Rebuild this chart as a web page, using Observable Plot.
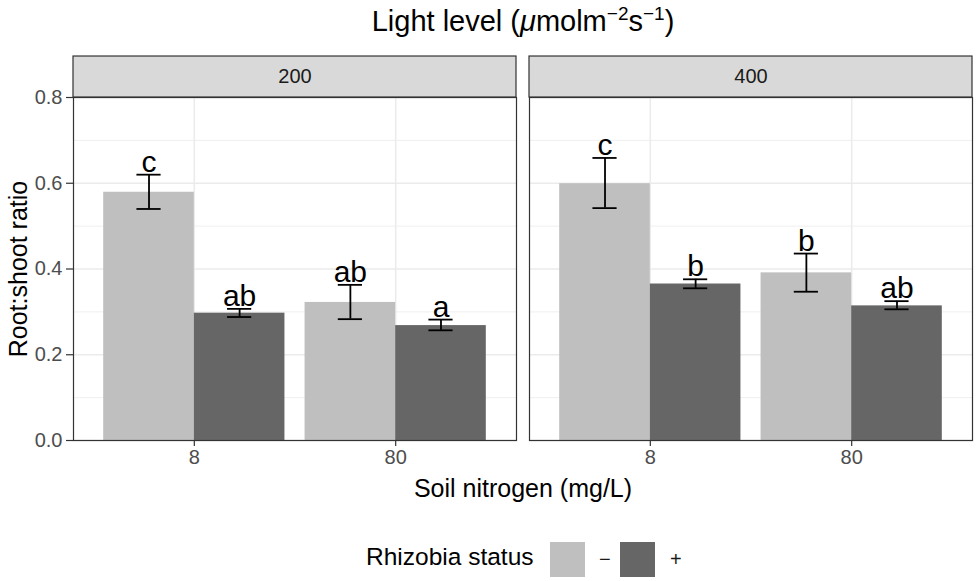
<!DOCTYPE html>
<html><head><meta charset="utf-8">
<script src="https://cdn.jsdelivr.net/npm/d3@7"></script>
<script src="https://cdn.jsdelivr.net/npm/@observablehq/plot@0.6"></script>
<style>
html,body{margin:0;padding:0;background:#fff;}
body{width:976px;height:581px;position:relative;overflow:hidden;font-family:"Liberation Sans",Arial,sans-serif;color:#000;}
#title{position:absolute;left:73px;width:900px;top:6px;text-align:center;font-size:29px;line-height:30px;white-space:nowrap;}
#title sup{font-size:19px;line-height:0;}
#chart{position:absolute;left:0;top:50px;}
#xtitle{position:absolute;left:73px;width:900px;top:474px;text-align:center;font-size:25px;line-height:28px;}
#legend{position:absolute;left:0;top:541px;height:36px;width:976px;}
#legend .lab{position:absolute;left:366px;top:2px;font-size:24.5px;line-height:28px;white-space:nowrap;}
#legend .box{position:absolute;top:1px;width:35px;height:35px;}
#legend .sym{position:absolute;top:6px;font-size:20px;line-height:24px;color:#1a1a1a;}
</style></head><body>
<div id="title">Light level (<i>μ</i>molm<sup>−2</sup>s<sup>−1</sup>)</div>
<div id="chart"></div>
<div id="xtitle">Soil nitrogen (mg/L)</div>
<div id="legend"></div>
<script>
const lightLevels = ["200", "400"];
const nitrogenLevels = ["8", "80"];
const rhizobiaLevels = ["−", "+"];
const rhizobiaColors = ["#bfbfbf", "#666666"];
const yTicks = [0, 0.2, 0.4, 0.6, 0.8];
const yMinor = [0.1, 0.3, 0.5, 0.7];

const lightCol    = ["200", "200", "200", "200", "400", "400", "400", "400"];
const nitrogenCol = ["8", "8", "80", "80", "8", "8", "80", "80"];
const rhizobiaCol = ["−", "+", "−", "+", "−", "+", "−", "+"];
const ratio = [0.579, 0.297, 0.322, 0.268, 0.599, 0.365, 0.391, 0.314];
const lower = [0.540, 0.288, 0.283, 0.257, 0.542, 0.355, 0.347, 0.306];
const upper = [0.620, 0.307, 0.363, 0.282, 0.659, 0.376, 0.436, 0.325];
const letters = ["c", "ab", "ab", "a", "c", "b", "b", "ab"];

const dodge = 0.45;   // bar width in x units (ggplot width 0.9 / 2)
const capHalf = 0.06; // half width of error bar caps

const rows = ratio.map((r, i) => {
  const pos = nitrogenLevels.indexOf(nitrogenCol[i]) + 1;
  const k = rhizobiaLevels.indexOf(rhizobiaCol[i]);
  const x1 = pos - dodge + k * dodge;
  return {light: lightCol[i], nitrogen: nitrogenCol[i], status: rhizobiaCol[i],
          ratio: r, lower: lower[i], upper: upper[i], letter: letters[i],
          x1, x2: x1 + dodge, xc: x1 + dodge / 2};
});
const strips = lightLevels.map(l => ({light: l}));

const yTop = 0.8;
const stripTop = 0.8956;

const chart = Plot.plot({
  width: 976,
  height: 430,
  marginLeft: 73,
  marginRight: 3,
  marginTop: 47,
  marginBottom: 40,
  style: {fontFamily: '"Liberation Sans", Arial, sans-serif', background: "white", overflow: "visible"},
  fx: {domain: lightLevels, paddingInner: 0.0285, paddingOuter: 0, axis: null},
  x: {domain: [0.4, 2.6], axis: null},
  y: {domain: [0, yTop], axis: null},
  color: {domain: rhizobiaLevels, range: rhizobiaColors},
  marks: [
    Plot.gridY(yMinor, {stroke: "#ebebeb", strokeOpacity: 1, strokeWidth: 0.8}),
    Plot.gridY(yTicks, {stroke: "#ebebeb", strokeOpacity: 1, strokeWidth: 1.5}),
    Plot.gridX([1, 2], {stroke: "#ebebeb", strokeOpacity: 1, strokeWidth: 1.5}),
    Plot.rectY(rows, {fx: "light", x1: "x1", x2: "x2", y: "ratio", fill: "status", inset: 0}),
    Plot.ruleX(rows, {fx: "light", x: "xc", y1: "lower", y2: "upper", stroke: "black", strokeWidth: 1.8}),
    Plot.ruleY(rows, {fx: "light", y: "upper", x1: d => d.xc - capHalf, x2: d => d.xc + capHalf, stroke: "black", strokeWidth: 1.8}),
    Plot.ruleY(rows, {fx: "light", y: "lower", x1: d => d.xc - capHalf, x2: d => d.xc + capHalf, stroke: "black", strokeWidth: 1.8}),
    Plot.text(rows, {fx: "light", x: "xc", y: "upper", text: "letter", lineAnchor: "bottom", fontSize: 30, fill: "black", dy: -3}),
    Plot.frame({stroke: "#333333", strokeWidth: 1.2}),
    Plot.rect(strips, {fx: "light", x1: 0.4, x2: 2.6, y1: yTop, y2: stripTop, fill: "#d9d9d9", stroke: "#333333", strokeWidth: 1.2}),
    Plot.text(strips, {fx: "light", x: 1.5, y: (yTop + stripTop) / 2, text: "light", fontSize: 20, fill: "#1a1a1a"}),
    Plot.axisY({ticks: yTicks, tickFormat: d3.format(".1f"), tickSize: 7, tickPadding: 4, fontSize: 20, fill: "#4d4d4d", stroke: "#333333", strokeWidth: 1.2, label: null}),
    Plot.axisX({ticks: [1, 2], tickFormat: i => nitrogenLevels[i - 1], tickSize: 6, tickPadding: 3, fontSize: 20, fill: "#4d4d4d", stroke: "#333333", strokeWidth: 1.2, label: null}),
    Plot.text([{light: lightLevels[0]}], {fx: "light", frameAnchor: "left", textAnchor: "middle", rotate: -90, dx: -55, text: () => "Root:shoot ratio", fontSize: 25, fill: "black"})
  ]
});
document.getElementById("chart").appendChild(chart);

const legend = document.getElementById("legend");
legend.innerHTML = `<div class="lab">Rhizobia status</div>` +
  rhizobiaLevels.map((s, i) =>
    `<div class="box" style="left:${550 + i * 70}px;background:${rhizobiaColors[i]}"></div>` +
    `<div class="sym" style="left:${599 + i * 71}px">${s}</div>`).join("");
</script>
</body></html>
